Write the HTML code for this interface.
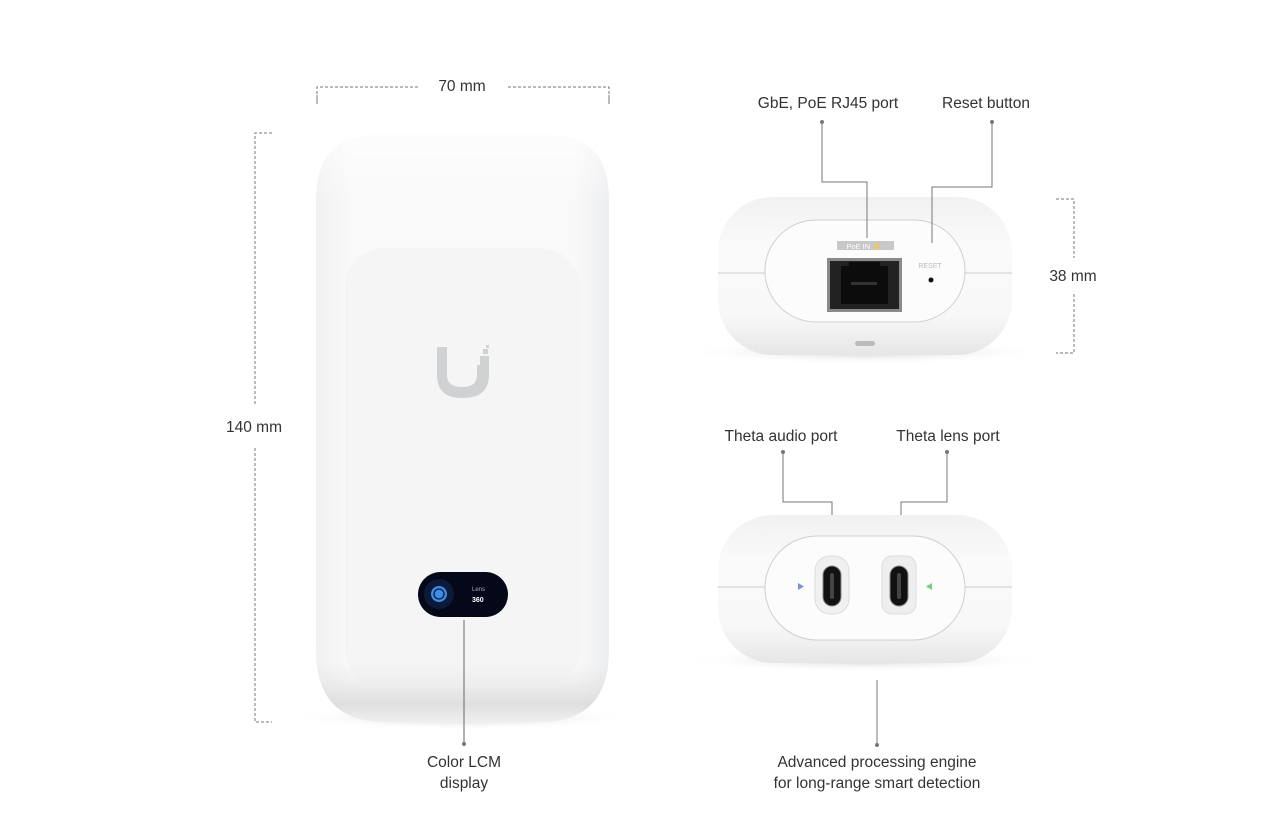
<!DOCTYPE html>
<html><head><meta charset="utf-8"><style>
html,body{margin:0;padding:0;background:#fff;}
svg{display:block;font-family:"Liberation Sans",sans-serif;}
</style></head><body>
<svg width="1284" height="830" viewBox="0 0 1284 830" xmlns="http://www.w3.org/2000/svg">
<defs>
<linearGradient id="body" x1="0" y1="0" x2="1" y2="0">
<stop offset="0" stop-color="#f0f1f2"/><stop offset="0.12" stop-color="#f9f9f9"/><stop offset="0.88" stop-color="#f9f9f9"/><stop offset="1" stop-color="#edeef0"/>
</linearGradient>
<linearGradient id="bodyv" x1="0" y1="0" x2="0" y2="1">
<stop offset="0" stop-color="#fff" stop-opacity="0.6"/><stop offset="0.12" stop-color="#fff" stop-opacity="0"/><stop offset="0.9" stop-color="#ddd" stop-opacity="0"/><stop offset="0.97" stop-color="#d4d4d4" stop-opacity="0.7"/><stop offset="1" stop-color="#e8e8e8" stop-opacity="0.6"/>
</linearGradient>
<linearGradient id="side" x1="0" y1="0" x2="0" y2="1">
<stop offset="0" stop-color="#f1f1f2"/><stop offset="0.3" stop-color="#fafafa"/><stop offset="0.75" stop-color="#f8f8f8"/><stop offset="1" stop-color="#e6e6e7"/>
</linearGradient>
<radialGradient id="shadow" cx="0.5" cy="0.5" r="0.5">
<stop offset="0" stop-color="#cfcfcf"/><stop offset="1" stop-color="#fff" stop-opacity="0"/>
</radialGradient>
</defs>

<g stroke="#777" stroke-width="1" fill="none">
<path d="M317 104 V87 H418" stroke-dasharray="3 2"/>
<path d="M508 87 H609 V104" stroke-dasharray="3 2"/>
<path d="M317 95 V104 M609 95 V104" />
<path d="M272 133 H255 V405" stroke-dasharray="3 2"/>
<path d="M255 448 V722 H272" stroke-dasharray="3 2"/>
<path d="M1056 199 H1074 V258" stroke-dasharray="3 2"/>
<path d="M1074 294 V353 H1056" stroke-dasharray="3 2"/>
</g>
<g font-size="15.5" fill="#333" text-anchor="middle">
<text x="462" y="91">70 mm</text>
<text x="254" y="432">140 mm</text>
<text x="1073" y="281">38 mm</text>
<text x="828" y="108">GbE, PoE RJ45 port</text>
<text x="986" y="108">Reset button</text>
<text x="781" y="441">Theta audio port</text>
<text x="948" y="441">Theta lens port</text>
<text x="464" y="767">Color LCM</text>
<text x="464" y="788">display</text>
<text x="877" y="767">Advanced processing engine</text>
<text x="877" y="788">for long-range smart detection</text>
</g>

<ellipse cx="462" cy="718" rx="175" ry="12" fill="url(#shadow)"/>
<path d="M316 200 Q316 133 380 135 H545 Q609 133 609 200 V650 Q609 722 540 722 H385 Q316 722 316 650 Z" fill="url(#body)"/>
<path d="M316 200 Q316 133 380 135 H545 Q609 133 609 200 V650 Q609 722 540 722 H385 Q316 722 316 650 Z" fill="url(#bodyv)"/>
<rect x="345" y="248" width="235" height="440" rx="40" fill="#eeeff0" opacity="0.35"/>
<path d="M437 347 H447 V375 Q447 387 462 387 Q477 387 477 375 V365 H489 V375 Q489 398 462 398 Q437 398 437 375 Z" fill="#cfd1d2"/>
<rect x="480" y="356" width="9" height="9" fill="#cfd1d2"/>
<rect x="483" y="349" width="5" height="5" fill="#cfd1d2"/>
<rect x="486" y="345" width="3" height="3" fill="#cfd1d2"/>
<rect x="418" y="572" width="90" height="45" rx="22.5" fill="#050818"/>
<circle cx="439" cy="594" r="15" fill="#0c1a3a"/>
<circle cx="439" cy="594" r="8" fill="#3a8ee8"/>
<circle cx="439" cy="594" r="5" fill="none" stroke="#0c1a3a" stroke-width="1.3"/>
<text x="472" y="591" font-size="6" fill="#aab">Lens</text>
<text x="472" y="602" font-size="7" font-weight="bold" fill="#fff">360</text>
<line x1="464" y1="620" x2="464" y2="744" stroke="#666"/>

<ellipse cx="865" cy="352" rx="185" ry="12" fill="url(#shadow)"/>
<rect x="718" y="197" width="294" height="158" rx="55" fill="url(#side)"/>
<line x1="718" y1="273" x2="768" y2="273" stroke="#ccc"/>
<line x1="963" y1="273" x2="1012" y2="273" stroke="#ccc"/>
<rect x="765" y="220" width="200" height="102" rx="51" fill="#fcfcfc" stroke="#cfcfcf"/>
<rect x="837" y="241" width="57" height="9" fill="#c8c8c8"/>
<text x="864" y="249" font-size="7.5" fill="#fff" text-anchor="middle">PoE IN ⚡</text>
<rect x="827" y="258" width="75" height="54" fill="#8a8a8a"/>
<rect x="830" y="261" width="69" height="48" fill="#222"/>
<path d="M841 266 H849 V262 H880 V266 H888 V304 H841 Z" fill="#0c0c0c"/>
<rect x="851" y="282" width="26" height="3" fill="#333"/>
<text x="930" y="268" font-size="7" fill="#bbb" text-anchor="middle">RESET</text>
<circle cx="931" cy="280" r="2.5" fill="#111"/>
<rect x="855" y="341" width="20" height="5" rx="2.5" fill="#bbb"/>
<g stroke="#777" fill="none">
<path d="M822 122 V182 H867 V238"/>
<path d="M992 122 V187 H932 V243"/>
<path d="M783 452 V502 H832 V540"/>
<path d="M947 452 V502 H901 V540"/>
<path d="M877 680 V745"/>
</g>
<g fill="#777"><circle cx="822" cy="122" r="2"/><circle cx="992" cy="122" r="2"/><circle cx="783" cy="452" r="2"/><circle cx="947" cy="452" r="2"/><circle cx="877" cy="745" r="2"/><circle cx="464" cy="744" r="2"/></g>

<ellipse cx="865" cy="660" rx="185" ry="12" fill="url(#shadow)"/>
<rect x="718" y="515" width="294" height="148" rx="55" fill="url(#side)"/>
<line x1="718" y1="587" x2="768" y2="587" stroke="#ccc"/>
<line x1="963" y1="587" x2="1012" y2="587" stroke="#ccc"/>
<rect x="765" y="536" width="200" height="104" rx="52" fill="#fcfcfc" stroke="#cfcfcf"/>
<rect x="815" y="556" width="34" height="58" rx="15" fill="#f0f0f0" stroke="#ddd"/>
<rect x="882" y="556" width="34" height="58" rx="10" fill="#eeeeee" stroke="#ddd"/>
<rect x="823" y="566" width="18" height="40" rx="9" fill="#111" stroke="#888"/>
<rect x="890" y="566" width="18" height="40" rx="9" fill="#111" stroke="#888"/>
<rect x="830" y="573" width="4" height="26" rx="2" fill="#444"/>
<rect x="897" y="573" width="4" height="26" rx="2" fill="#444"/>
<path d="M798 583 L804 586.5 L798 590 Z" fill="#7e8ee0"/>
<path d="M932 583 L926 586.5 L932 590 Z" fill="#6fd37a"/>
</svg>
</body></html>
